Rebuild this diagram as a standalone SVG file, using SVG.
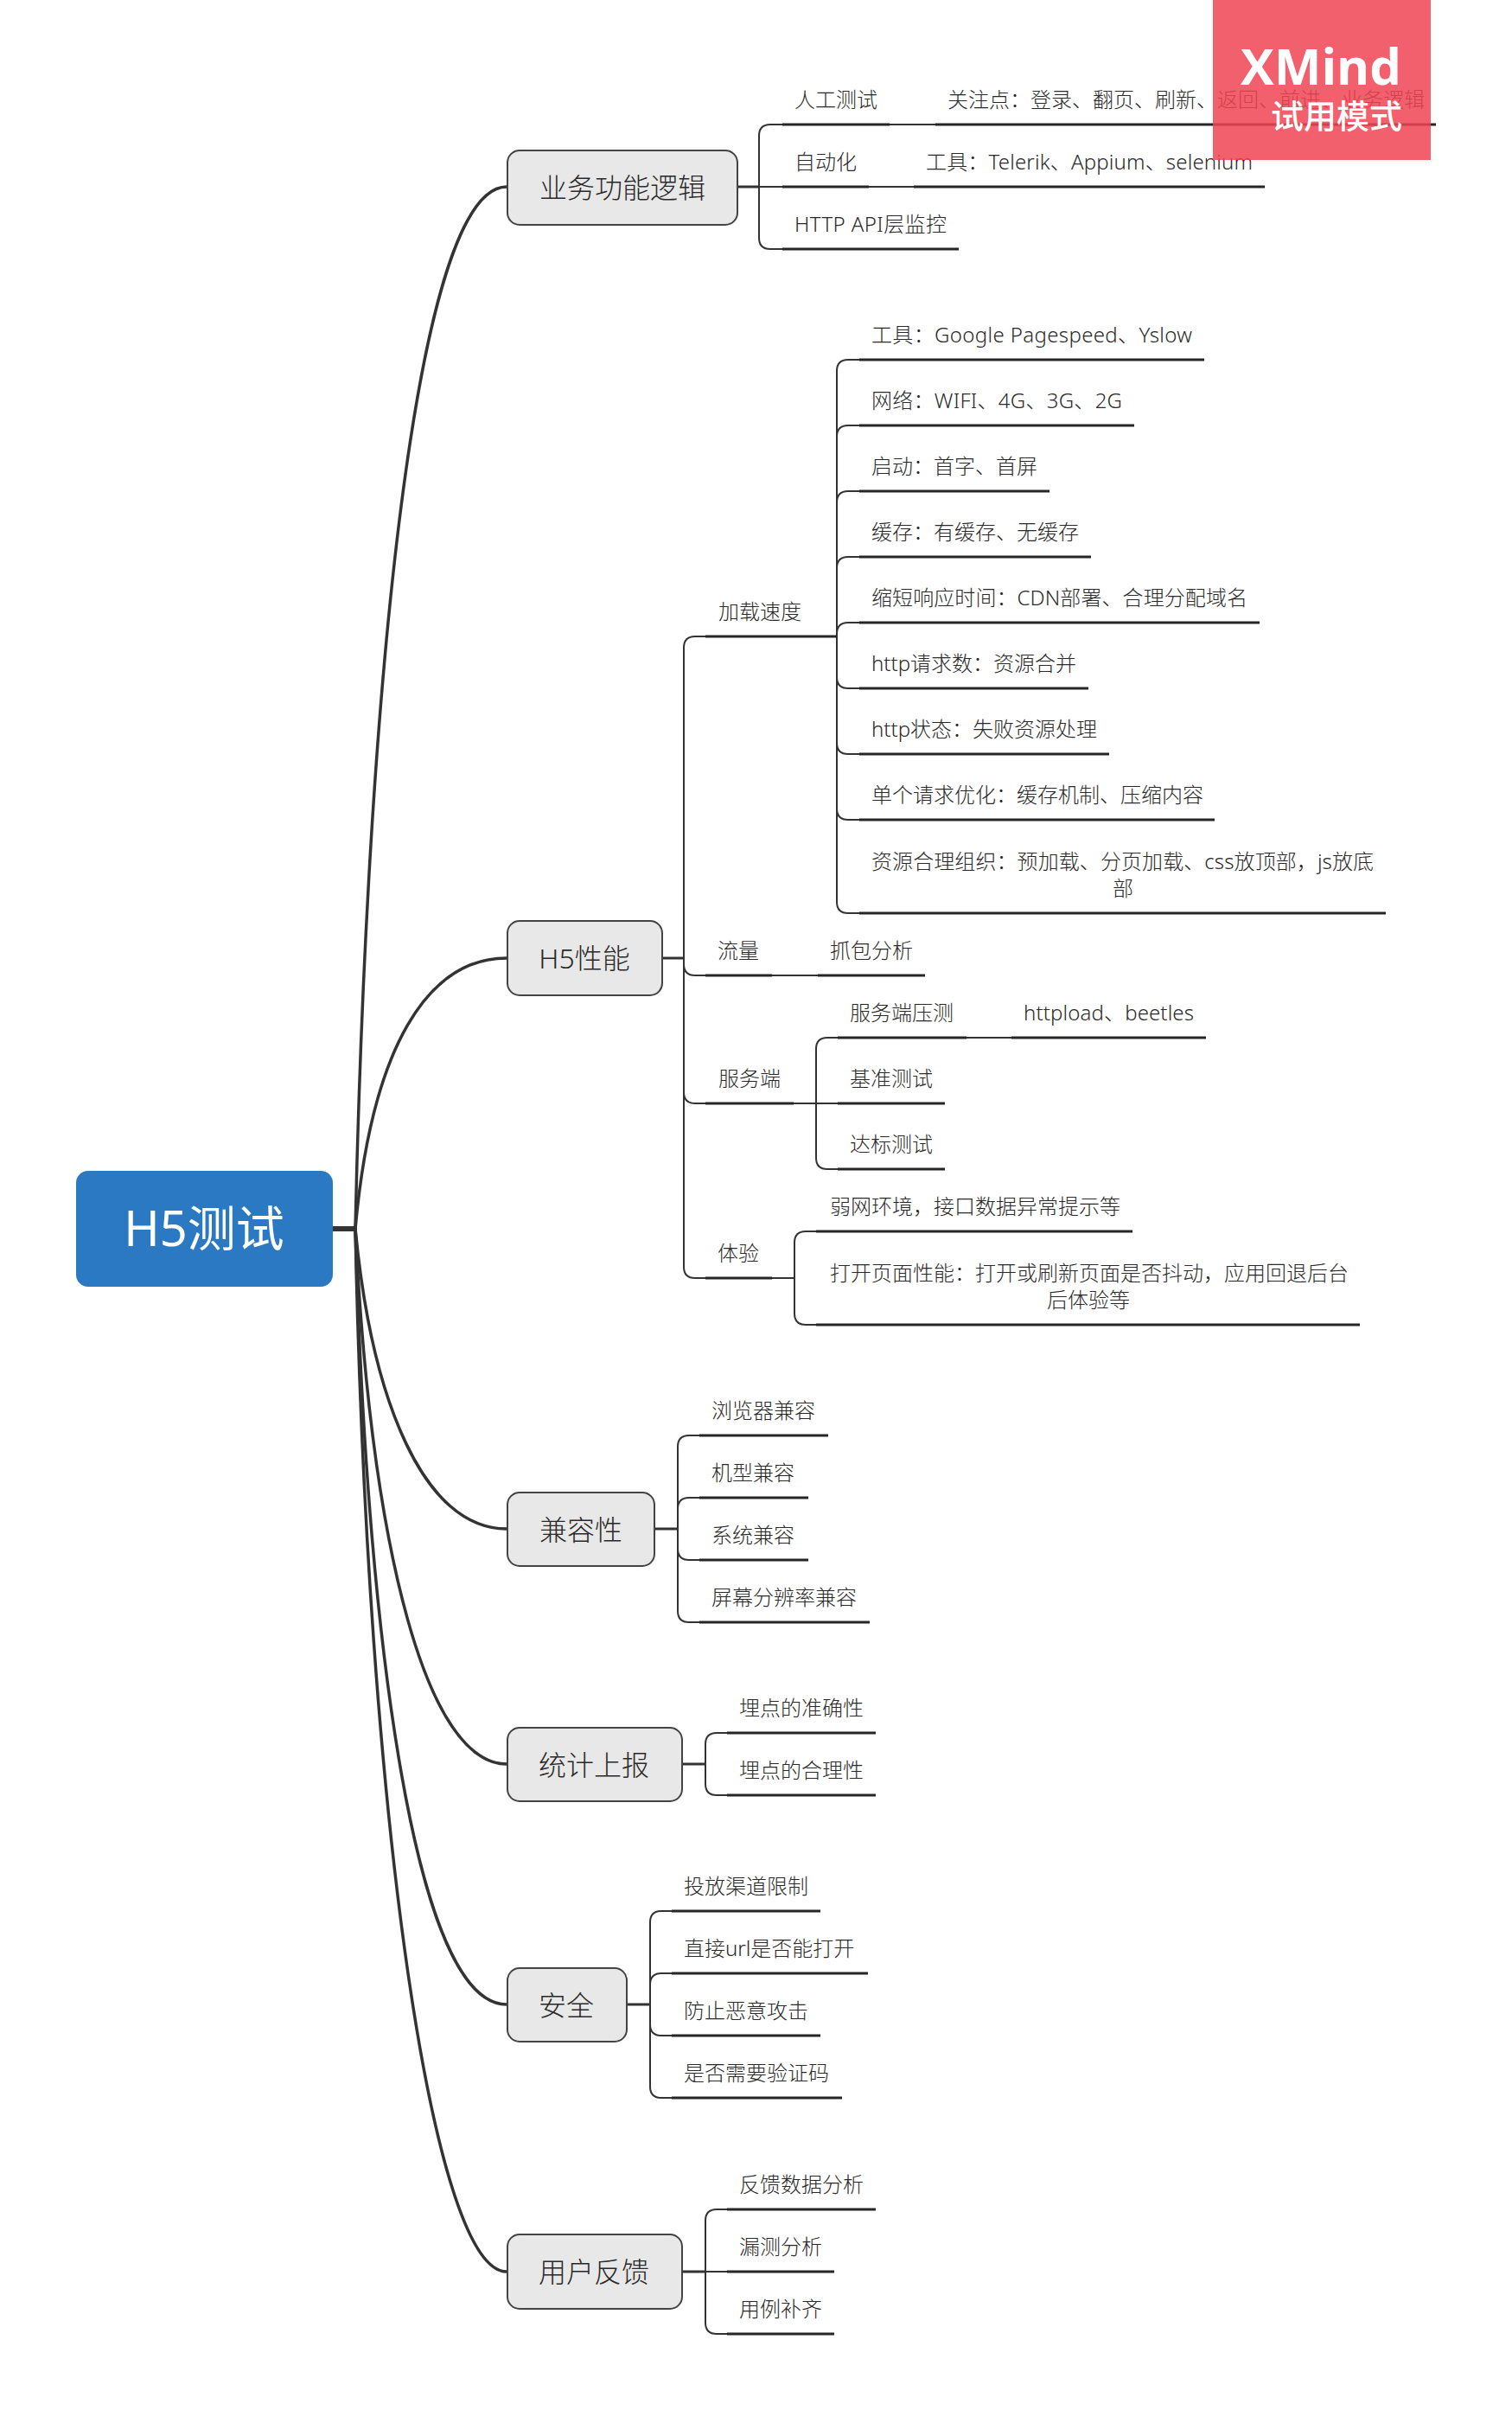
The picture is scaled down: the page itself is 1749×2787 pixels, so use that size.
<svg xmlns="http://www.w3.org/2000/svg" width="1749" height="2787" viewBox="0 0 1749 2787">
<style>
text{font-family:"Noto Sans","Noto Sans CJK SC",sans-serif;fill:#2a2a2a;font-weight:300}
.s{font-size:24px}
.m{font-size:32px;text-anchor:middle}
.c{text-anchor:middle}
.u{stroke:#262626;stroke-width:3;fill:none}
.b{stroke:#333;stroke-width:2;fill:none}
.h{stroke:#333;stroke-width:3;fill:none}
.t{stroke:#333;stroke-width:3.5;fill:none}
.n{fill:#e8e8e8;stroke:#444;stroke-width:2}
</style>
<rect width="1749" height="2787" fill="#fff"/>
<g id="connectors">
<path class="t" style="stroke-width:6" d="M385 1421H411"/>
<path class="t" d="M411 1421C425 800 480 216 586 216"/>
<path class="t" d="M411 1421C430 1210 495 1108 586 1108"/>
<path class="t" d="M411 1421C430 1620 490 1768 586 1768"/>
<path class="t" d="M411 1421C430 1800 495 2040 586 2040"/>
<path class="t" d="M411 1421C425 1900 480 2318 586 2318"/>
<path class="t" d="M411 1421C425 2100 500 2627 586 2627"/>
<path class="h" d="M853 216H878M766 1108H791M757 1768H784M789 2040H816M725 2318H752M789 2627H816"/>
<path class="b" d="M878 216H905M878 216V157Q878 144 891 144H905M878 216V275Q878 288 891 288H905"/>
<path class="b" d="M1029 144H1082M1005 216H1057"/>
<path class="b" d="M791 1108V749Q791 736 804 736H816M791 1108V1115Q791 1128 804 1128H816M791 1108V1263Q791 1276 804 1276H816M791 1108V1465Q791 1478 804 1478H816"/>
<path class="b" d="M968 736V429Q968 416 981 416H994M968 736V505Q968 492 981 492H994M968 736V581Q968 568 981 568H994M968 736V657Q968 644 981 644H994M968 736V733Q968 720 981 720H994M968 736V783Q968 796 981 796H994M968 736V859Q968 872 981 872H994M968 736V935Q968 948 981 948H994M968 736V1043Q968 1056 981 1056H994"/>
<path class="b" d="M893 1128H946"/>
<path class="b" d="M918 1276H969M944 1276V1213Q944 1200 957 1200H969M944 1276V1339Q944 1352 957 1352H969M1118 1200H1170"/>
<path class="b" d="M893 1478H919M919 1478V1437Q919 1424 932 1424H944M919 1478V1519Q919 1532 932 1532H944"/>
<path class="b" d="M784 1768V1673Q784 1660 797 1660H809M784 1768V1745Q784 1732 797 1732H809M784 1768V1791Q784 1804 797 1804H809M784 1768V1863Q784 1876 797 1876H809"/>
<path class="b" d="M816 2040V2017Q816 2004 829 2004H841M816 2040V2063Q816 2076 829 2076H841"/>
<path class="b" d="M752 2318V2223Q752 2210 765 2210H777M752 2318V2295Q752 2282 765 2282H777M752 2318V2341Q752 2354 765 2354H777M752 2318V2413Q752 2426 765 2426H777"/>
<path class="b" d="M816 2627H841M816 2627V2568Q816 2555 829 2555H841M816 2627V2686Q816 2699 829 2699H841"/>
</g>
<g id="root"><rect x="88" y="1354" width="297" height="134" rx="14" fill="#2b79c2"/><text x="236" y="1441" text-anchor="middle" style="font-size:56px;fill:#fff;font-weight:400">H5测试</text></g>
<g id="biz"><rect class="n" x="587" y="174" width="266" height="86" rx="14"/><text class="m" x="720" y="229">业务功能逻辑</text></g>
<g id="biz-1"><path class="u" d="M905 144H1029"/><text class="s" x="919" y="124">人工测试</text></g>
<g id="biz-1-1"><path class="u" d="M1082 144H1661"/><text class="s" x="1096" y="124">关注点：登录、翻页、刷新、返回、前进、业务逻辑</text></g>
<g id="biz-2"><path class="u" d="M905 216H1005"/><text class="s" x="919" y="196">自动化</text></g>
<g id="biz-2-1"><path class="u" d="M1057 216H1463"/><text class="s" x="1071" y="196" textLength="378">工具：Telerik、Appium、selenium</text></g>
<g id="biz-3"><path class="u" d="M905 288H1109"/><text class="s" x="919" y="268" textLength="176">HTTP API层监控</text></g>

<g id="perf"><rect class="n" x="587" y="1065" width="179" height="86" rx="14"/><text class="m" x="676" y="1120">H5性能</text></g>
<g id="load"><path class="u" d="M816 736H968"/><text class="s" x="831" y="716">加载速度</text></g>
<g id="load-1"><path class="u" d="M994 416H1393"/><text class="s" x="1008" y="396" textLength="371">工具：Google Pagespeed、Yslow</text></g>
<g id="load-2"><path class="u" d="M994 492H1312"/><text class="s" x="1008" y="472" textLength="290">网络：WIFI、4G、3G、2G</text></g>
<g id="load-3"><path class="u" d="M994 568H1214"/><text class="s" x="1008" y="548">启动：首字、首屏</text></g>
<g id="load-4"><path class="u" d="M994 644H1262"/><text class="s" x="1008" y="624">缓存：有缓存、无缓存</text></g>
<g id="load-5"><path class="u" d="M994 720H1457"/><text class="s" x="1008" y="700" textLength="435">缩短响应时间：CDN部署、合理分配域名</text></g>
<g id="load-6"><path class="u" d="M994 796H1259"/><text class="s" x="1008" y="776" textLength="237">http请求数：资源合并</text></g>
<g id="load-7"><path class="u" d="M994 872H1283"/><text class="s" x="1008" y="852" textLength="261">http状态：失败资源处理</text></g>
<g id="load-8"><path class="u" d="M994 948H1405"/><text class="s" x="1008" y="928">单个请求优化：缓存机制、压缩内容</text></g>
<g id="load-9"><path class="u" d="M994 1056H1603"/><text class="s" x="1008" y="1005" textLength="581">资源合理组织：预加载、分页加载、css放顶部，js放底</text><text class="s c" x="1299" y="1036">部</text></g>
<g id="flow"><path class="u" d="M816 1128H893"/><text class="s" x="830" y="1108">流量</text></g>
<g id="flow-1"><path class="u" d="M946 1128H1070"/><text class="s" x="960" y="1108">抓包分析</text></g>
<g id="server"><path class="u" d="M816 1276H918"/><text class="s" x="831" y="1256">服务端</text></g>
<g id="server-1"><path class="u" d="M969 1200H1118"/><text class="s" x="983" y="1180">服务端压测</text></g>
<g id="server-1-1"><path class="u" d="M1170 1200H1395"/><text class="s" x="1184" y="1180" textLength="197">httpload、beetles</text></g>
<g id="server-2"><path class="u" d="M969 1276H1093"/><text class="s" x="983" y="1256">基准测试</text></g>
<g id="server-3"><path class="u" d="M969 1352H1093"/><text class="s" x="983" y="1332">达标测试</text></g>
<g id="exp"><path class="u" d="M816 1478H893"/><text class="s" x="830" y="1458">体验</text></g>
<g id="exp-1"><path class="u" d="M944 1424H1310"/><text class="s" x="960" y="1404">弱网环境，接口数据异常提示等</text></g>
<g id="exp-2"><path class="u" d="M944 1532H1573"/><text class="s" x="960" y="1481">打开页面性能：打开或刷新页面是否抖动，应用回退后台</text><text class="s c" x="1259" y="1512">后体验等</text></g>

<g id="compat"><rect class="n" x="587" y="1726" width="170" height="85" rx="14"/><text class="m" x="672" y="1781">兼容性</text></g>
<g id="compat-1"><path class="u" d="M809 1660H958"/><text class="s" x="823" y="1640">浏览器兼容</text></g>
<g id="compat-2"><path class="u" d="M809 1732H935"/><text class="s" x="823" y="1712">机型兼容</text></g>
<g id="compat-3"><path class="u" d="M809 1804H935"/><text class="s" x="823" y="1784">系统兼容</text></g>
<g id="compat-4"><path class="u" d="M809 1876H1006"/><text class="s" x="823" y="1856">屏幕分辨率兼容</text></g>

<g id="stats"><rect class="n" x="587" y="1998" width="202" height="85" rx="14"/><text class="m" x="687" y="2053">统计上报</text></g>
<g id="stats-1"><path class="u" d="M841 2004H1013"/><text class="s" x="855" y="1984">埋点的准确性</text></g>
<g id="stats-2"><path class="u" d="M841 2076H1013"/><text class="s" x="855" y="2056">埋点的合理性</text></g>

<g id="safe"><rect class="n" x="587" y="2276" width="138" height="85" rx="14"/><text class="m" x="655" y="2331">安全</text></g>
<g id="safe-1"><path class="u" d="M777 2210H949"/><text class="s" x="791" y="2190">投放渠道限制</text></g>
<g id="safe-2"><path class="u" d="M777 2282H1004"/><text class="s" x="791" y="2262">直接url是否能打开</text></g>
<g id="safe-3"><path class="u" d="M777 2354H949"/><text class="s" x="791" y="2334">防止恶意攻击</text></g>
<g id="safe-4"><path class="u" d="M777 2426H974"/><text class="s" x="791" y="2406">是否需要验证码</text></g>

<g id="feedback"><rect class="n" x="587" y="2584" width="202" height="86" rx="14"/><text class="m" x="687" y="2639">用户反馈</text></g>
<g id="feedback-1"><path class="u" d="M841 2555H1013"/><text class="s" x="855" y="2535">反馈数据分析</text></g>
<g id="feedback-2"><path class="u" d="M841 2627H965"/><text class="s" x="855" y="2607">漏测分析</text></g>
<g id="feedback-3"><path class="u" d="M841 2699H965"/><text class="s" x="855" y="2679">用例补齐</text></g>

<g id="watermark"><rect x="1403" y="0" width="252" height="185" fill="#ee4452" fill-opacity="0.85"/><text x="1528" y="98" text-anchor="middle" style="font-size:58px;font-weight:700;fill:#fff;font-family:'Open Sans','Noto Sans',sans-serif">XMind</text><text x="1546" y="148" text-anchor="middle" style="font-size:38px;font-weight:500;fill:#fff">试用模式</text></g>
</svg>
